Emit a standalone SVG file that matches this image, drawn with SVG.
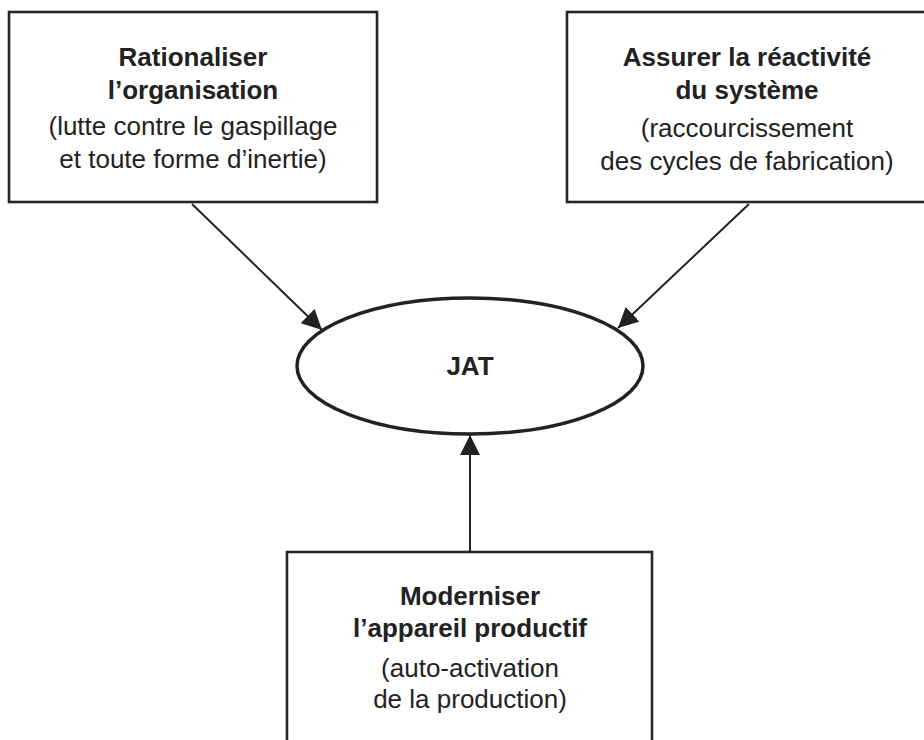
<svg xmlns="http://www.w3.org/2000/svg" width="924" height="740" viewBox="0 0 924 740">
  <style>
    .box { fill: #ffffff; stroke: #262626; stroke-width: 2.6; }
    .oval { fill: #ffffff; stroke: #222222; stroke-width: 3.5; }
    .title { font-family: "Liberation Sans", Arial, sans-serif; font-size: 26px; font-weight: bold; fill: #222222; text-anchor: middle; }
    .note { font-family: "Liberation Sans", Arial, sans-serif; font-size: 26px; fill: #222222; text-anchor: middle; }
    .link { fill: none; stroke: #222222; stroke-width: 2; marker-end: url(#head); }
  </style>
  <defs>
    <marker id="head" markerUnits="userSpaceOnUse" markerWidth="20" markerHeight="20" refX="20" refY="10" orient="auto">
      <path d="M0,0 L20,10 L0,20 Z" fill="#222222"/>
    </marker>
  </defs>
  <rect width="924" height="740" fill="#ffffff"/>

  <g id="connectors">
    <line class="link" x1="192" y1="204" x2="322" y2="330"/>
    <line class="link" x1="749" y1="204" x2="618" y2="328"/>
    <line class="link" x1="470" y1="552" x2="470" y2="435"/>
  </g>

  <g id="rationaliser">
    <rect class="box" x="9" y="12" width="368" height="190"/>
    <text class="title" x="193" y="66">Rationaliser</text>
    <text class="title" x="193" y="99">l’organisation</text>
    <text class="note" x="193" y="135">(lutte contre le gaspillage</text>
    <text class="note" x="193" y="168">et toute forme d’inertie)</text>
  </g>

  <g id="reactivite">
    <rect class="box" x="567" y="12" width="380" height="190"/>
    <text class="title" x="747" y="66">Assurer la réactivité</text>
    <text class="title" x="747" y="99">du système</text>
    <text class="note" x="747" y="137">(raccourcissement</text>
    <text class="note" x="747" y="170">des cycles de fabrication)</text>
  </g>

  <g id="jat">
    <ellipse class="oval" cx="470" cy="366" rx="173" ry="68"/>
    <text class="title" x="470" y="375">JAT</text>
  </g>

  <g id="moderniser">
    <rect class="box" x="287" y="552" width="365" height="250"/>
    <text class="title" x="470" y="605">Moderniser</text>
    <text class="title" x="470" y="637">l’appareil productif</text>
    <text class="note" x="470" y="677">(auto-activation</text>
    <text class="note" x="470" y="708">de la production)</text>
  </g>
</svg>
